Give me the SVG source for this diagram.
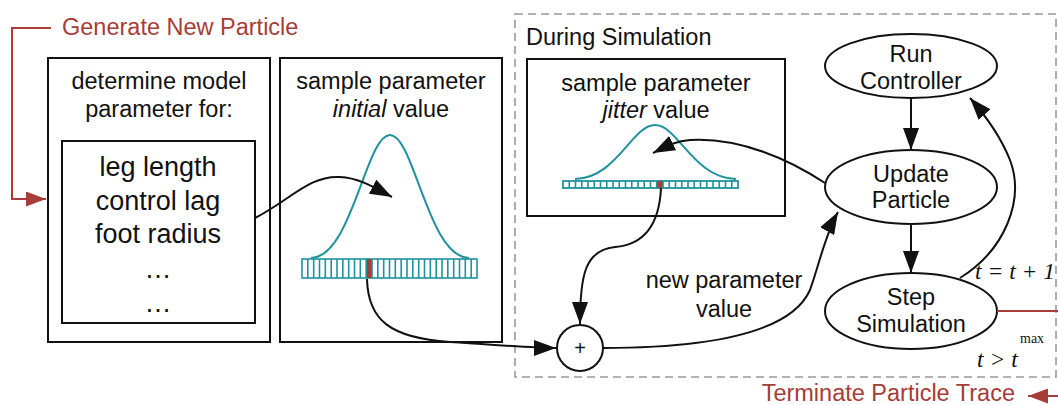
<svg xmlns="http://www.w3.org/2000/svg" width="1058" height="405" viewBox="0 0 1058 405">
<defs>
<style>
.t{font-family:"Liberation Sans",Arial,sans-serif;font-size:23.5px;fill:#111;text-anchor:middle}
.big{font-size:27px}
.red{fill:#a83c36}
.m{font-family:"Liberation Serif","Times New Roman",serif;font-style:italic;font-size:23.5px;fill:#111}
.box{fill:#fff;stroke:#111;stroke-width:2}
.conn{fill:none;stroke:#111;stroke-width:2}
.rl{fill:none;stroke:#a83c36;stroke-width:2}
.teal{fill:none;stroke:#1f939d;stroke-width:2}
.cells{fill:none;stroke:#1f939d;stroke-width:1.6}
</style>
<marker id="ah" markerUnits="userSpaceOnUse" markerWidth="22" markerHeight="16" refX="22" refY="8" orient="auto"><path d="M0,0 L22,8 L0,16 z" fill="#111"/></marker>
<marker id="rh" markerUnits="userSpaceOnUse" markerWidth="20" markerHeight="15" refX="20" refY="7.5" orient="auto"><path d="M0,0 L20,7.5 L0,15 z" fill="#a83c36"/></marker>
</defs>
<rect width="1058" height="405" fill="#fff"/>

<g id="simulation-frame">
<rect x="515" y="14" width="541" height="363" fill="none" stroke="#999" stroke-width="1.6" stroke-dasharray="8,5"/>
<text class="t" x="526" y="45" style="text-anchor:start">During Simulation</text>
</g>

<g id="generate-label">
<text class="t red" x="62" y="35" style="text-anchor:start">Generate New Particle</text>
</g>
<g id="terminate-label">
<text class="t red" x="1015" y="401" style="text-anchor:end">Terminate Particle Trace</text>
</g>

<g id="determine-box">
<rect class="box" x="48" y="58" width="222" height="284"/>
<text class="t" x="159" y="89">determine model</text>
<text class="t" x="159" y="117">parameter for:</text>
</g>
<g id="parameter-list">
<rect class="box" x="62" y="141" width="193" height="182"/>
<text class="t big" x="158" y="176">leg length</text>
<text class="t big" x="158" y="210">control lag</text>
<text class="t big" x="158" y="243">foot radius</text>
<text class="t big" x="158" y="278">…</text>
<text class="t big" x="158" y="312">…</text>
</g>

<g id="initial-box">
<rect class="box" x="280" y="58" width="222" height="284"/>
<text class="t" x="391" y="89">sample parameter</text>
<text class="t" x="391" y="117"><tspan font-style="italic">initial</tspan> value</text>
<path class="teal" d="M311,258 C352,257 366,135 390,135 C414,135 428,257 469,258"/>
<rect x="302" y="259" width="175" height="19" fill="#fff" stroke="#1f939d" stroke-width="1.6"/>
<rect x="366.2" y="259" width="5.8" height="19" fill="#a83c36"/>
<path class="cells" d="M307.8 259v19M313.7 259v19M319.5 259v19M325.3 259v19M331.2 259v19M337 259v19M342.8 259v19M348.7 259v19M354.5 259v19M360.3 259v19M366.2 259v19M372 259v19M377.8 259v19M383.7 259v19M389.5 259v19M395.3 259v19M401.2 259v19M407 259v19M412.8 259v19M418.7 259v19M424.5 259v19M430.3 259v19M436.2 259v19M442 259v19M447.8 259v19M453.7 259v19M459.5 259v19M465.3 259v19M471.2 259v19"/>
</g>

<g id="jitter-box">
<rect class="box" x="527" y="59" width="258" height="157"/>
<text class="t" x="656" y="91">sample parameter</text>
<text class="t" x="656" y="118"><tspan font-style="italic">jitter</tspan> value</text>
<path class="teal" d="M575,179 C617,178 632,125 655,125 C678,125 693,178 736,179"/>
<rect x="563" y="181" width="175" height="7" fill="#fff" stroke="#1f939d" stroke-width="1.8"/>
<rect x="656.8" y="181" width="6.2" height="7" fill="#a83c36"/>
<path class="cells" d="M569.25 181v7M575.5 181v7M581.75 181v7M588 181v7M594.25 181v7M600.5 181v7M606.75 181v7M613 181v7M619.25 181v7M625.5 181v7M631.75 181v7M638 181v7M644.25 181v7M650.5 181v7M656.75 181v7M663 181v7M669.25 181v7M675.5 181v7M681.75 181v7M688 181v7M694.25 181v7M700.5 181v7M706.75 181v7M713 181v7M719.25 181v7M725.5 181v7M731.75 181v7"/>
</g>

<g id="plus-node">
<circle cx="580" cy="348" r="23" fill="#fff" stroke="#111" stroke-width="2"/>
<text class="t" x="580" y="355" style="font-size:20px">+</text>
</g>

<g id="run-controller">
<ellipse cx="911" cy="66" rx="86" ry="32" fill="#fff" stroke="#111" stroke-width="2"/>
<text class="t" x="911" y="62">Run</text>
<text class="t" x="911" y="89">Controller</text>
</g>
<g id="update-particle">
<ellipse cx="911" cy="187" rx="86" ry="37" fill="#fff" stroke="#111" stroke-width="2"/>
<text class="t" x="911" y="182">Update</text>
<text class="t" x="911" y="208">Particle</text>
</g>
<g id="step-simulation">
<ellipse cx="911" cy="311" rx="86" ry="38" fill="#fff" stroke="#111" stroke-width="2"/>
<text class="t" x="911" y="305">Step</text>
<text class="t" x="911" y="332">Simulation</text>
</g>

<g id="connectors">
<path class="rl" d="M51,28 L12,28 L12,199 L46,199" marker-end="url(#rh)"/>
<path class="rl" d="M1058,396 L1028,396" marker-end="url(#rh)"/>
<path class="rl" d="M997,311 L1058,311"/>
<path class="conn" d="M255,218 C290,200 310,175 340,177 C360,178 375,188 392,197" marker-end="url(#ah)"/>
<path class="conn" d="M367,279 C368,320 390,338 450,342 C500,345 530,348 556,348" marker-end="url(#ah)"/>
<path class="conn" d="M661,188 C659,230 640,245 615,247 C585,250 580,275 580,324" marker-end="url(#ah)"/>
<path class="conn" d="M603,348 C700,348 790,335 810,290 C820,262 825,235 838,212" marker-end="url(#ah)"/>
<path class="conn" d="M825,183 C790,160 740,137 690,140 C675,141 665,147 653,153" marker-end="url(#ah)"/>
<path class="conn" d="M911,98 L911,150" marker-end="url(#ah)"/>
<path class="conn" d="M911,224 L911,273" marker-end="url(#ah)"/>
<path class="conn" d="M960,278 C1005,250 1025,200 1010,160 C1000,135 985,115 970,98" marker-end="url(#ah)"/>
<text class="t" x="724" y="288">new parameter</text>
<text class="t" x="724" y="317">value</text>
<text class="m" x="975" y="279">t = t + 1</text>
<text class="m" x="977" y="367">t &gt; t</text>
<text x="1020" y="343" style="font-family:'Liberation Serif',serif;font-size:14px;fill:#111">max</text>
</g>
</svg>
